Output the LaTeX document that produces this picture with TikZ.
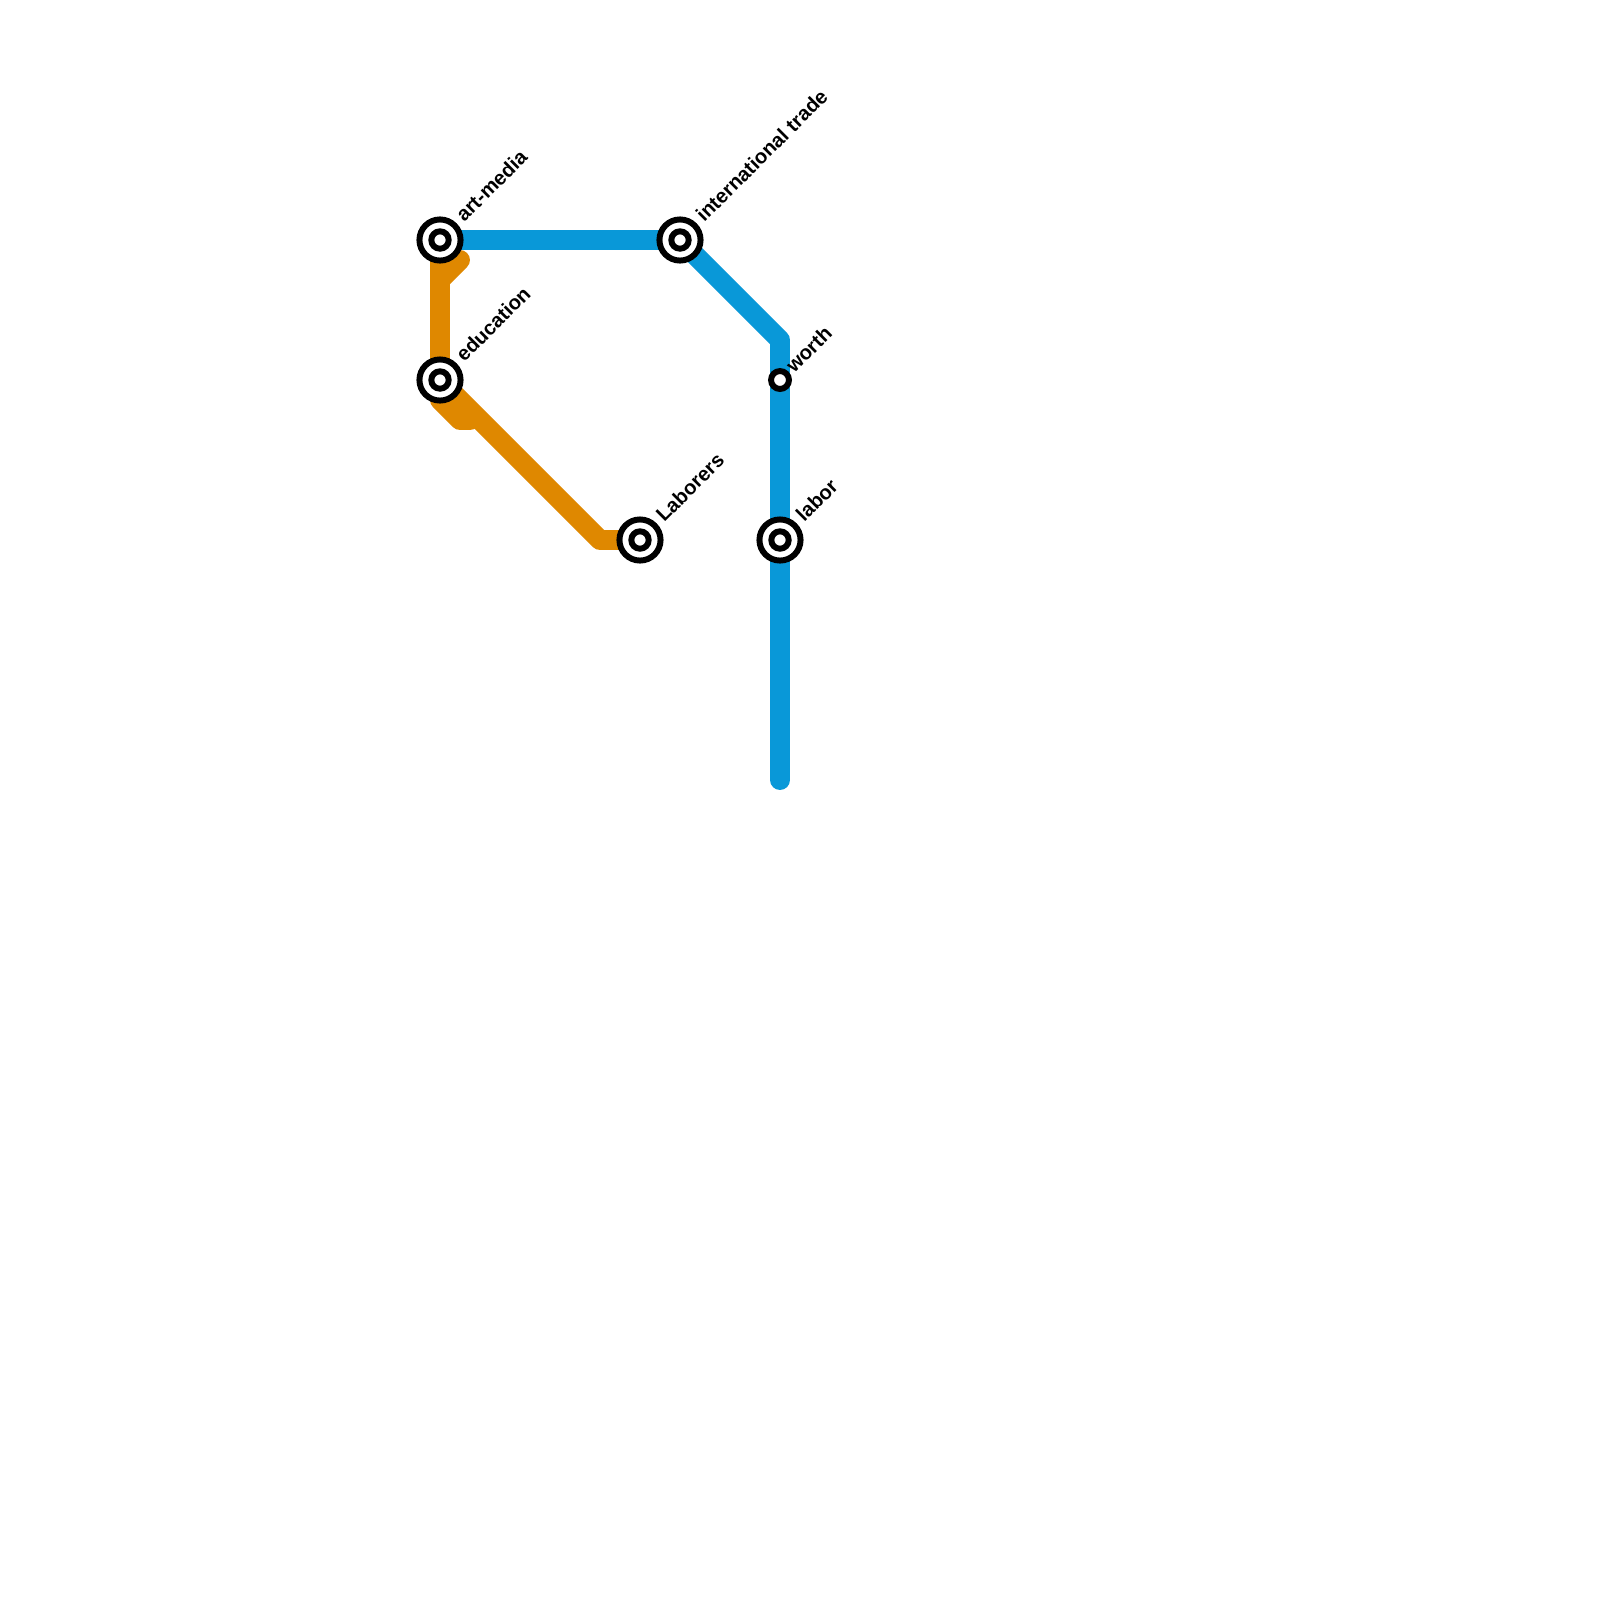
\documentclass[tikz,border=0pt]{standalone}
\usepackage{fontspec}
\setmainfont{Liberation Sans}
\usetikzlibrary{backgrounds}

\begin{document}
\begin{tikzpicture}[
    x=0.02cm,
    y=-0.02cm,
    blueline/.style={line width=11.34pt, draw={rgb,255:red,9;green,152;blue,216}, line cap=round, line join=round},
    orangeline/.style={line width=11.34pt, draw={rgb,255:red,223;green,136;blue,0}, line cap=round, line join=round},
    stationdot/.style={circle, draw=black, fill=white, line width=3.4pt, minimum size=9.9pt, inner sep=0pt, outer sep=0pt},
    station/.style={circle, draw=black, fill=white, line width=3.4pt, minimum size=23.4pt, inner sep=0pt, outer sep=0pt, label={[stationdot]center:{}}},
    smallstation/.style={circle, draw=black, fill=white, line width=3.4pt, minimum size=10.2pt, inner sep=0pt, outer sep=0pt},
    stationtext/.style={anchor=west, rotate=45, inner sep=0pt, font=\fontsize{11.5pt}{13pt}\selectfont\bfseries}
]

    \useasboundingbox (0,0) rectangle (1600,1600);

    % Stations
    \node[station] (artmedia) at (440,240) {};
    \node[station] (education) at (440,380) {};
    \node[station] (laborers) at (640,540) {};
    \node[station] (trade) at (680,240) {};
    \node[smallstation] (worth) at (780,380) {};
    \node[station] (labor) at (780,540) {};

    % Bends and line ends
    \coordinate (bluebend) at (780,340);
    \coordinate (blueend) at (780,780);
    \coordinate (orangetop) at (460,260);
    \coordinate (orangeupper) at (440,280);
    \coordinate (orangelower) at (440,400);
    \coordinate (orangefoot) at (460,420);
    \coordinate (orangestub) at (470,420);
    \coordinate (orangebend) at (600,540);

    % Labels
    \node[stationtext] (artmedialabel) at (459,218) {art-media};
    \node[stationtext] (educationlabel) at (459,358) {education};
    \node[stationtext] (laborerslabel) at (659,518) {Laborers};
    \node[stationtext] (tradelabel) at (699,218) {international trade};
    \node[stationtext] (worthlabel) at (789,369) {worth};
    \node[stationtext] (laborlabel) at (799,518) {labor};

    % Lines
    \begin{scope}[on background layer]
        \draw[blueline] (artmedia.center) -- (trade.center) -- (bluebend) -- (worth.center) -- (labor.center) -- (blueend);
        \draw[orangeline] (artmedia.center) -- (education.center) -- (orangelower) -- (orangefoot) -- (orangestub);
        \draw[orangeline] (orangetop) -- (orangeupper);
        \draw[orangeline] (education.center) -- (orangebend) -- (laborers.center);
    \end{scope}

\end{tikzpicture}
\end{document}
